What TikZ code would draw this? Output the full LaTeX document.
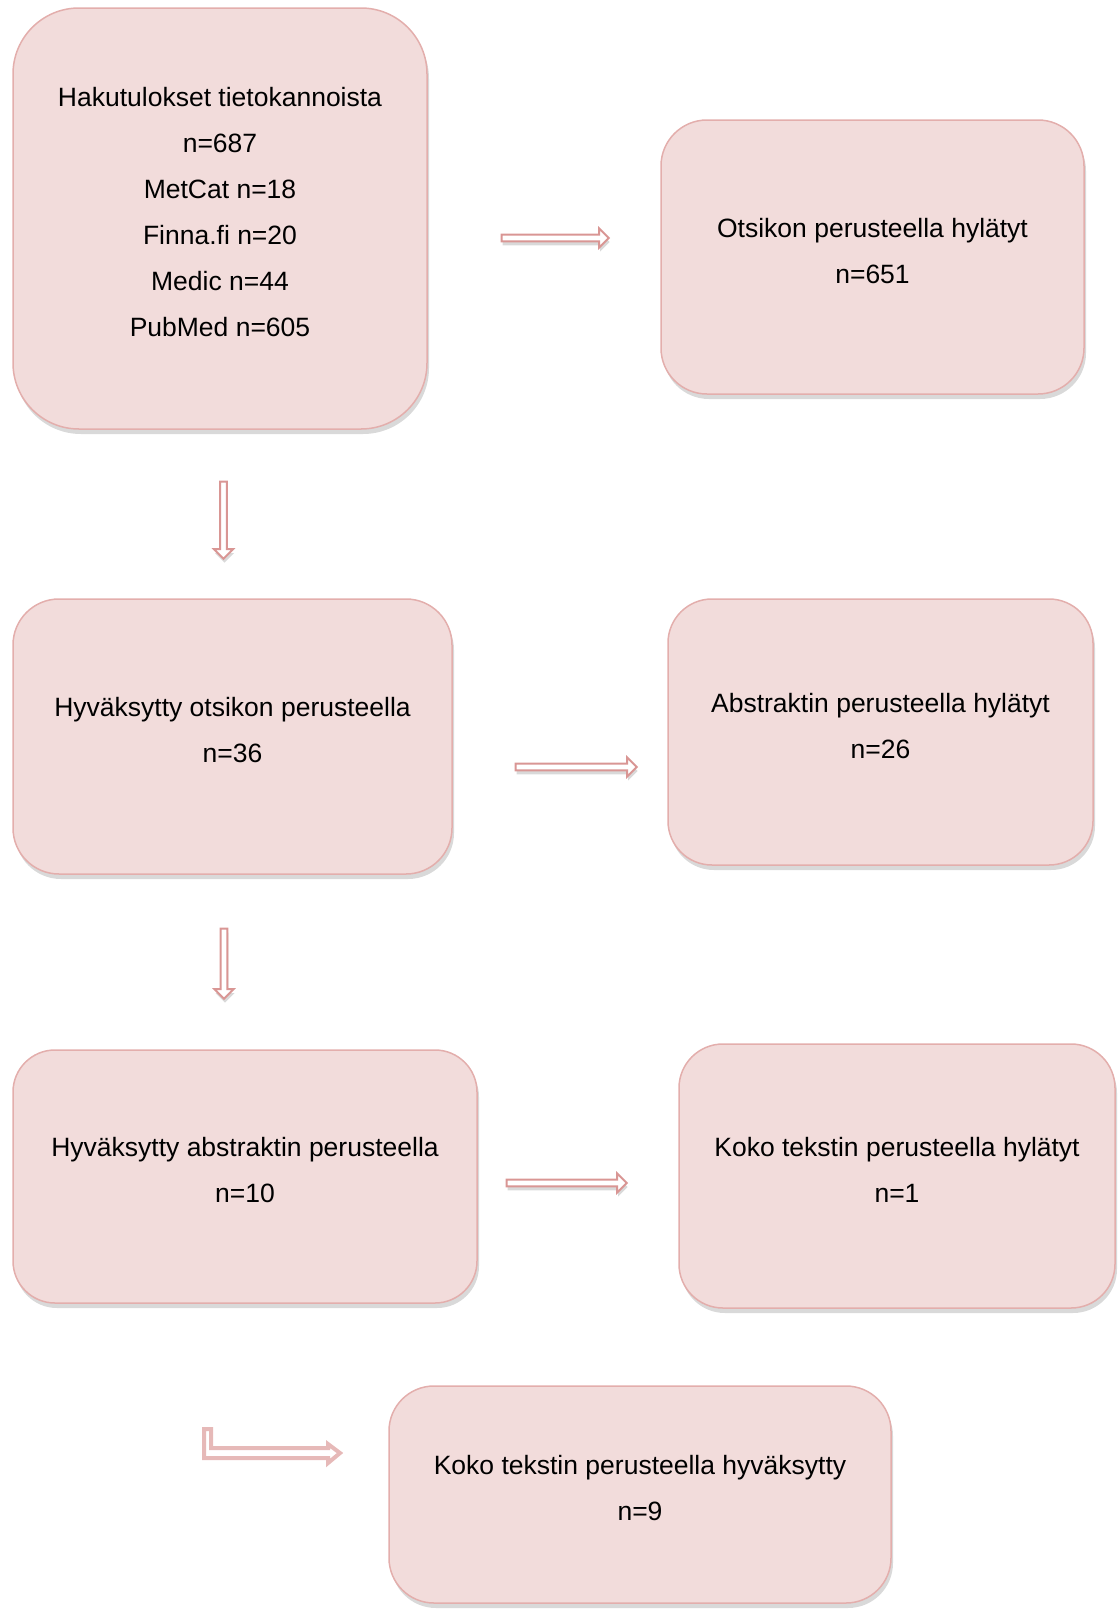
\documentclass[tikz,border=0pt]{standalone}
\usepackage{fontspec}
\setmainfont{Liberation Sans}
\usetikzlibrary{shapes.arrows, shadows}

\definecolor{boxfill}{HTML}{F2DCDB}
\definecolor{boxline}{HTML}{E3AEAC}
\definecolor{arrline}{HTML}{D99694}
\definecolor{bentline}{HTML}{E6B9B8}

\tikzset{
	vaihe/.style={draw=boxline, line width=1.5pt, fill=boxfill, inner sep=0pt,
		drop shadow={shadow xshift=2pt, shadow yshift=-5pt, opacity=0.3, fill=gray}},
	teksti/.style={align=center, inner sep=0pt, yshift=6pt,
		font=\fontsize{26.5}{46}\selectfont},
	nuoli/.style={single arrow, draw=arrline, line width=2pt, fill=white, inner sep=0pt,
		minimum width=19pt, single arrow head extend=5.5pt, text height=4pt, text depth=0pt,
		drop shadow={shadow xshift=1pt, shadow yshift=-4pt, opacity=0.3, fill=gray}}
}

\begin{document}
\begin{tikzpicture}[x=1pt, y=-1pt]
		\useasboundingbox (0,0) rectangle (1118,1609);

		% laatikot
		\node[vaihe, rounded corners=66pt, minimum width=414pt, minimum height=421pt] (haku) at (220,218.5) {};
		\node[vaihe, rounded corners=46pt, minimum width=423pt, minimum height=274pt] (otsHyl) at (872.5,257) {};
		\node[vaihe, rounded corners=46pt, minimum width=439pt, minimum height=275pt] (otsHyv) at (232.5,736.5) {};
		\node[vaihe, rounded corners=44pt, minimum width=425pt, minimum height=266pt] (absHyl) at (880.5,732) {};
		\node[vaihe, rounded corners=42pt, minimum width=464pt, minimum height=253pt] (absHyv) at (245,1176.5) {};
		\node[vaihe, rounded corners=44pt, minimum width=436pt, minimum height=264pt] (kokoHyl) at (897,1176) {};
		\node[vaihe, rounded corners=45pt, minimum width=502pt, minimum height=217pt] (kokoHyv) at (640,1494.5) {};

		% tekstit
		\node[teksti] (hakuT) at (haku) {Hakutulokset tietokannoista\\n=687\\MetCat n=18\\Finna.fi n=20\\Medic n=44\\PubMed n=605};
		\node[teksti] (otsHylT) at (otsHyl) {Otsikon perusteella hylätyt\\n=651};
		\node[teksti] (otsHyvT) at (otsHyv) {Hyväksytty otsikon perusteella\\n=36};
		\node[teksti] (absHylT) at (absHyl) {Abstraktin perusteella hylätyt\\n=26};
		\node[teksti] (absHyvT) at (absHyv) {Hyväksytty abstraktin perusteella\\n=10};
		\node[teksti] (kokoHylT) at (kokoHyl) {Koko tekstin perusteella hylätyt\\n=1};
		\node[teksti] (kokoHyvT) at (kokoHyv) {Koko tekstin perusteella hyväksytty\\n=9};

		% nuolet
		\node[nuoli, minimum height=107pt] (n1) at (553.5,238) {};
		\node[nuoli, minimum height=77pt, rotate=-90] (n2) at (223.5,518.5) {};
		\node[nuoli, minimum height=121pt] (n3) at (574.5,767) {};
		\node[nuoli, minimum height=70pt, rotate=-90] (n4) at (224,962) {};
		\node[nuoli, minimum height=120pt] (n5) at (565,1183) {};

		% taitettu nuoli
		\draw[bentline, line width=4pt, fill=white, line join=miter]
			(204,1429) -- (211,1429) -- (211,1448) -- (328,1448) -- (328,1444)
			-- (340,1453) -- (328,1463) -- (328,1458) -- (204,1458) -- cycle;
	\end{tikzpicture}
\end{document}
